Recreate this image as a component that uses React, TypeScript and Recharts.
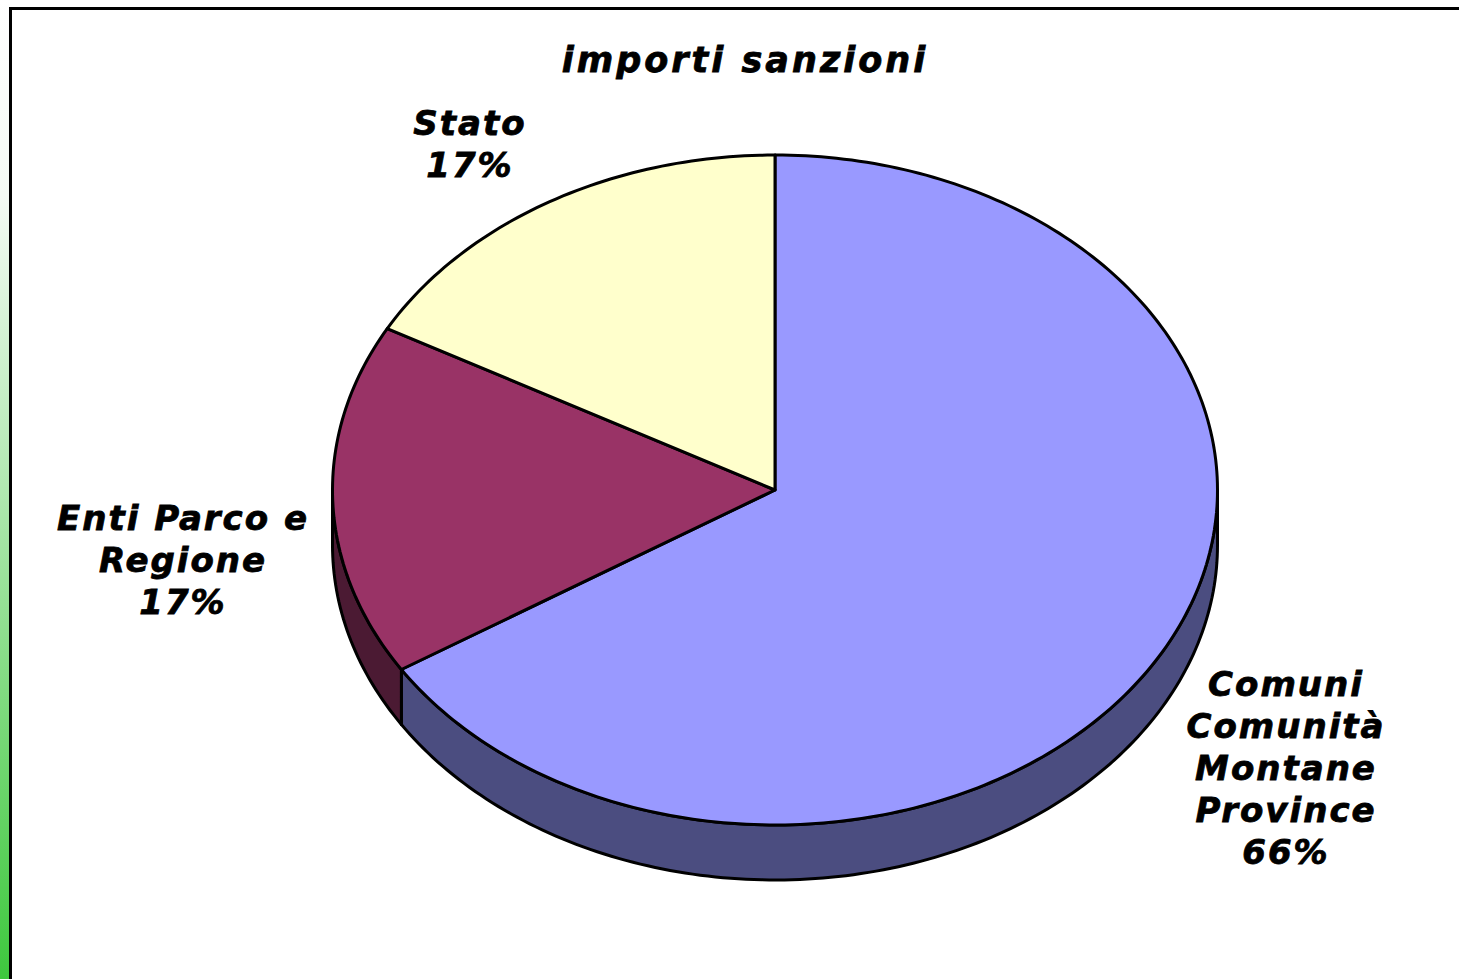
import React from 'react'
import { PieChart, Pie } from 'recharts'

// data
const categories = ['Comuni Comunità Montane Province', 'Enti Parco e Regione', 'Stato']
const shares = [66, 17, 17]
const labelLines = [['Comuni', 'Comunità', 'Montane', 'Province'], ['Enti Parco e', 'Regione'], ['Stato']]

const TOP_COLORS = ['#9999FF', '#993366', '#FFFFCC']
const SIDE_COLORS = ['#4B4D80', '#4B1A33', '#80805F']

// label anchor (centre x, first baseline y) for each slice
const LABEL_POS = [
  { x: 1286, y: 696 },
  { x: 183, y: 530 },
  { x: 470, y: 135 },
]

const W = 1459
const H = 979
const CX = 775
const CY = 490
const R = 442.5
const TILT = 0.757
const DEPTH = 55
const RAD = Math.PI / 180
const FONT = '"DejaVu Sans", Verdana, sans-serif'

const data = categories.map((name, i) => ({ name, value: shares[i], lines: labelLines[i] }))

function arcPoints(cx: number, cy: number, rx: number, ry: number, a1: number, a2: number) {
  const pts: string[] = []
  const n = Math.max(2, Math.ceil(Math.abs(a2 - a1)))
  for (let i = 0; i <= n; i++) {
    const a = (a1 + ((a2 - a1) * i) / n) * RAD
    pts.push(`${(cx + rx * Math.cos(a)).toFixed(2)},${(cy - ry * Math.sin(a)).toFixed(2)}`)
  }
  return pts
}

function Slice3D(props: any) {
  const { cx, cy, outerRadius, startAngle, endAngle, index } = props
  const rx = outerRadius
  const ry = outerRadius * TILT
  const lo = Math.min(startAngle, endAngle)
  const hi = Math.max(startAngle, endAngle)

  const walls: string[] = []
  for (let k = -1; k <= 1; k++) {
    const s = Math.max(lo, 360 * k - 180)
    const e = Math.min(hi, 360 * k)
    if (e > s) {
      const top = arcPoints(cx, cy, rx, ry, s, e)
      const bottom = arcPoints(cx, cy + DEPTH, rx, ry, e, s)
      walls.push('M' + top.join(' L') + ' L' + bottom.join(' L') + ' Z')
    }
  }
  const face = `M${cx},${cy} L` + arcPoints(cx, cy, rx, ry, startAngle, endAngle).join(' L') + ' Z'

  return (
    <g>
      {walls.map((d, i) => (
        <path key={i} d={d} fill={SIDE_COLORS[index]} stroke="#000" strokeWidth={3} strokeLinejoin="round" />
      ))}
      <path d={face} fill={TOP_COLORS[index]} stroke="#000" strokeWidth={3} strokeLinejoin="round" />
    </g>
  )
}

function SliceLabel(props: any) {
  const { index, payload, value } = props
  const pos = LABEL_POS[index]
  const lines: string[] = [...(payload?.lines ?? data[index].lines), `${value}%`]
  return (
    <text
      x={pos.x}
      y={pos.y}
      textAnchor="middle"
      fontFamily={FONT}
      fontWeight="bold"
      fontStyle="italic"
      fontSize={34}
      letterSpacing={2}
      fill="#000"
      stroke="#000"
      strokeWidth={0.8}
    >
      {lines.map((l, i) => (
        <tspan key={i} x={pos.x} dy={i === 0 ? 0 : 42}>{l}</tspan>
      ))}
    </text>
  )
}

export default function App() {
  return (
    <div style={{ position: 'absolute', left: 0, top: 0, width: W, height: H, background: '#fff', overflow: 'hidden' }}>
      {/* left gradient strip and frame */}
      <div style={{ position: 'absolute', left: 0, top: 0, width: 10, height: H, background: 'linear-gradient(#ffffff 0%, #f4fbf4 20%, #3ec83e 100%)' }} />
      <div style={{ position: 'absolute', left: 9, top: 7, width: W, height: H, borderTop: '3px solid #000', borderLeft: '3px solid #000' }} />
      <div
        style={{
          position: 'absolute', left: 0, width: 1490, top: 40, textAlign: 'center',
          fontFamily: FONT, fontWeight: 'bold', fontStyle: 'italic', fontSize: 35, letterSpacing: 3,
          WebkitTextStroke: '0.8px #000',
        }}
      >
        importi sanzioni
      </div>
      <div style={{ position: 'absolute', left: 0, top: 0 }}>
        <PieChart width={W} height={H} margin={{ top: 0, right: 0, bottom: 0, left: 0 }}>
          <Pie
            data={data}
            dataKey="value"
            nameKey="name"
            cx={CX}
            cy={CY}
            outerRadius={R}
            startAngle={90}
            endAngle={-270}
            shape={Slice3D}
            label={SliceLabel}
            labelLine={false}
            stroke="none"
            isAnimationActive={false}
          />
        </PieChart>
      </div>
    </div>
  )
}
